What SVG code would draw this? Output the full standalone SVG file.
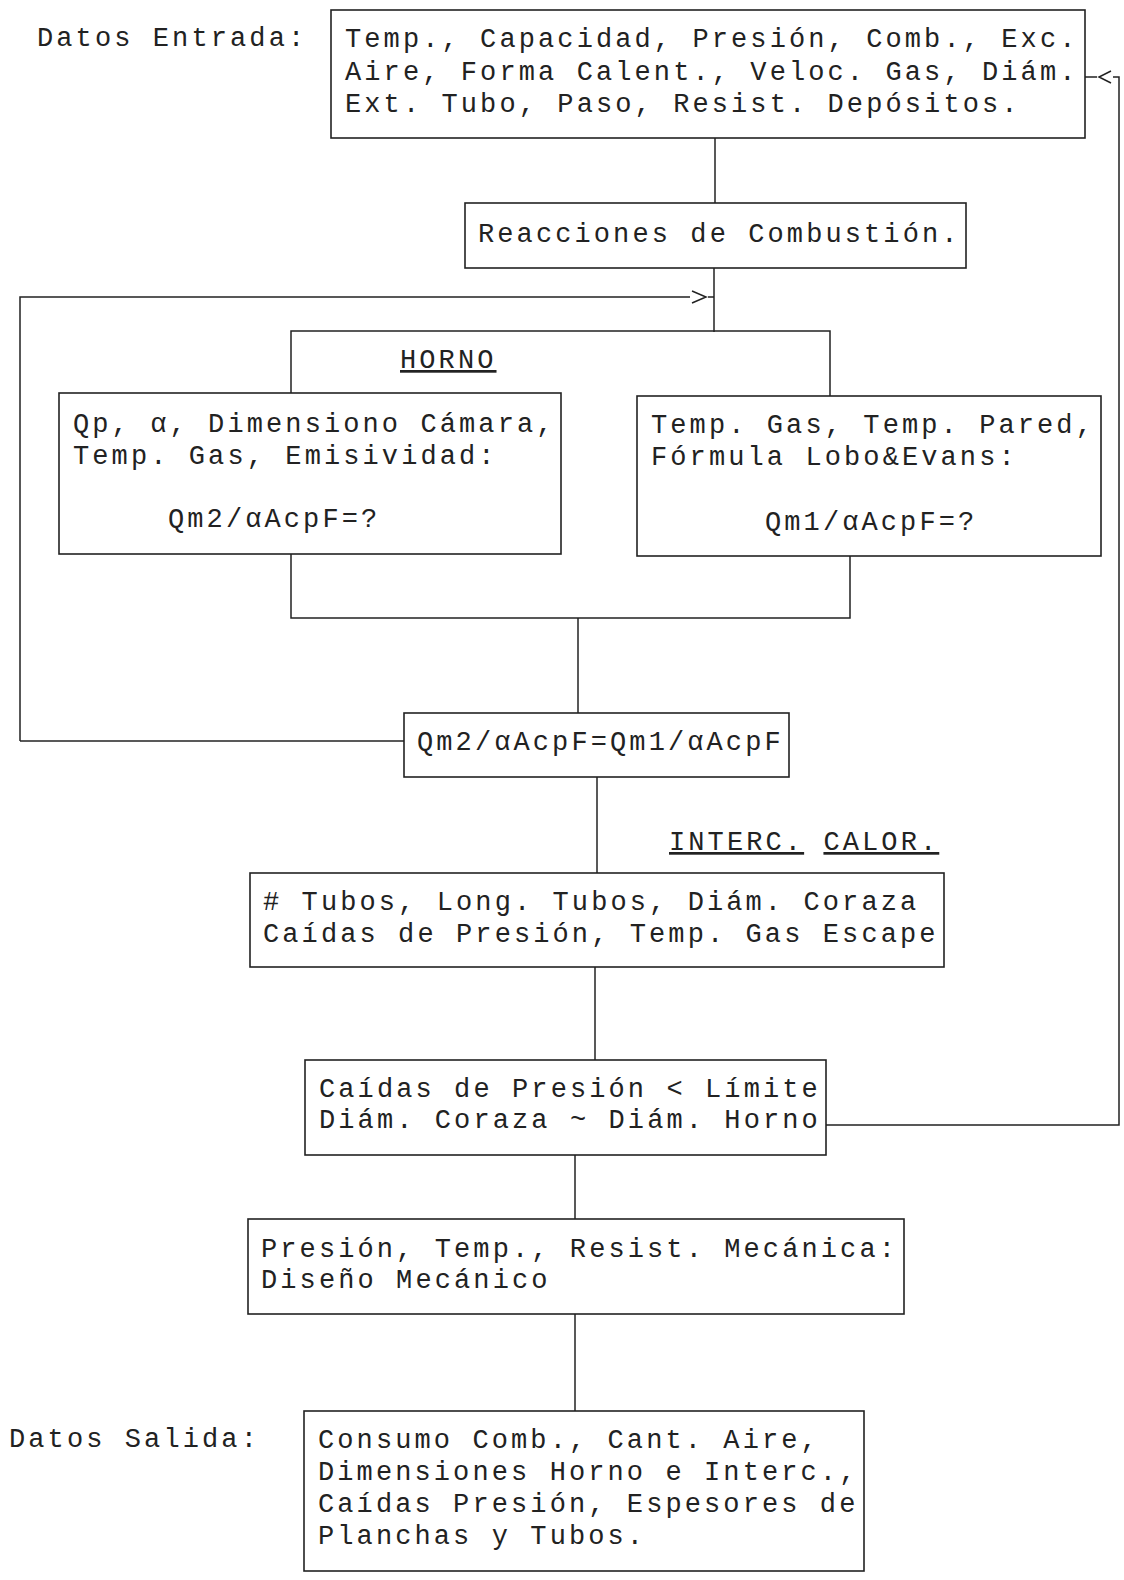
<svg xmlns="http://www.w3.org/2000/svg" width="1124" height="1580" viewBox="0 0 1124 1580">
<style>
text{font-family:"Liberation Mono","DejaVu Sans Mono",monospace;font-size:27px;letter-spacing:3.1px;fill:#222}
.box{fill:none;stroke:#222;stroke-width:1.6}
.ln{fill:none;stroke:#222;stroke-width:1.5}
.ul{text-decoration:underline}
</style>
<g id="label-entrada"><text x="37" y="46">Datos Entrada:</text></g>
<g id="label-salida"><text x="9" y="1447">Datos Salida:</text></g>
<g id="connectors">
<path class="ln" d="M715,138 V203"/>
<path class="ln" d="M714,268 V332"/>
<path class="ln" d="M20,741 V297 H690 M708,297 H714"/>
<path class="ln" d="M692,291 L706,297 L692,303"/>
<path class="ln" d="M291,393 V331 H830 V396"/>
<path class="ln" d="M291,554 V618 H850 V556"/>
<path class="ln" d="M578,618 V713"/>
<path class="ln" d="M20,741 H404"/>
<path class="ln" d="M597,777 V873"/>
<path class="ln" d="M595,967 V1060"/>
<path class="ln" d="M826,1125 H1119 V77 H1113 M1097,77 H1085"/>
<path class="ln" d="M1111,71 L1099,77 L1111,83"/>
<path class="ln" d="M575,1155 V1219"/>
<path class="ln" d="M575,1314 V1411"/>
</g>
<g id="node-entrada">
<rect class="box" x="331" y="10" width="754" height="128"/>
<text x="345" y="47">Temp., Capacidad, Presión, Comb., Exc.</text>
<text x="345" y="80">Aire, Forma Calent., Veloc. Gas, Diám.</text>
<text x="345" y="112">Ext. Tubo, Paso, Resist. Depósitos.</text>
</g>
<g id="node-reacciones">
<rect class="box" x="465" y="203" width="501" height="65"/>
<text x="478" y="242">Reacciones de Combustión.</text>
</g>
<g id="node-horno">
<text class="ul" x="400" y="368">HORNO</text>
</g>
<g id="node-horno-izq">
<rect class="box" x="59" y="393" width="502" height="161"/>
<text x="73" y="432">Qp, α, Dimensiono Cámara,</text>
<text x="73" y="464">Temp. Gas, Emisividad:</text>
<text x="168" y="527">Qm2/αAcpF=?</text>
</g>
<g id="node-horno-der">
<rect class="box" x="637" y="396" width="464" height="160"/>
<text x="651" y="433">Temp. Gas, Temp. Pared,</text>
<text x="651" y="465">Fórmula Lobo&amp;Evans:</text>
<text x="765" y="530">Qm1/αAcpF=?</text>
</g>
<g id="node-igualdad">
<rect class="box" x="404" y="713" width="385" height="64"/>
<text x="417" y="750">Qm2/αAcpF=Qm1/αAcpF</text>
</g>
<g id="node-interc-label">
<text x="669" y="850"><tspan class="ul">INTERC.</tspan> <tspan class="ul">CALOR.</tspan></text>
</g>
<g id="node-tubos">
<rect class="box" x="250" y="873" width="694" height="94"/>
<text x="263" y="910"># Tubos, Long. Tubos, Diám. Coraza</text>
<text x="263" y="942">Caídas de Presión, Temp. Gas Escape</text>
</g>
<g id="node-caidas">
<rect class="box" x="305" y="1060" width="521" height="95"/>
<text x="319" y="1097">Caídas de Presión &lt; Límite</text>
<text x="319" y="1128">Diám. Coraza ~ Diám. Horno</text>
</g>
<g id="node-mecanico">
<rect class="box" x="248" y="1219" width="656" height="95"/>
<text x="261" y="1257">Presión, Temp., Resist. Mecánica:</text>
<text x="261" y="1288">Diseño Mecánico</text>
</g>
<g id="node-salida">
<rect class="box" x="304" y="1411" width="560" height="160"/>
<text x="318" y="1448">Consumo Comb., Cant. Aire,</text>
<text x="318" y="1480">Dimensiones Horno e Interc.,</text>
<text x="318" y="1512">Caídas Presión, Espesores de</text>
<text x="318" y="1544">Planchas y Tubos.</text>
</g>
</svg>
